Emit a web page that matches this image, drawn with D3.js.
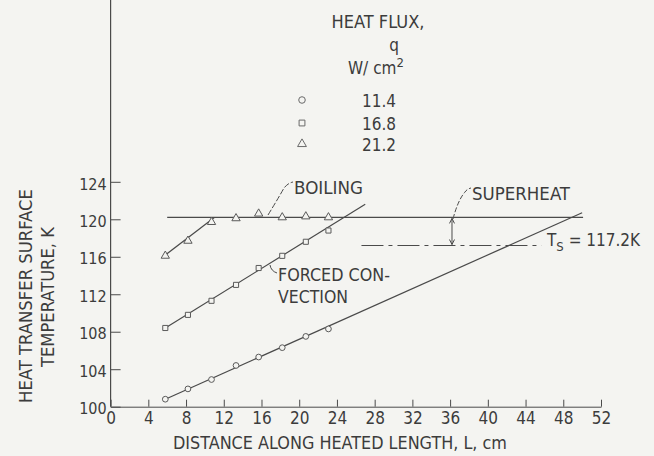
<!DOCTYPE html>
<meta charset="utf-8">
<style>
body{ margin:0; background:#f4f4f1; }
svg{ display:block; }
text{ font-family:"Liberation Sans Narrow","DejaVu Sans Condensed",sans-serif; fill:#3c3c3c; }
</style>
<body>
<svg class="chart"></svg>
<script src="https://cdn.jsdelivr.net/npm/d3@7"></script>
<script>
// measurement stations along the heated length, cm
var stations = [5.8, 8.2, 10.7, 13.3, 15.7, 18.2, 20.7, 23.1];

// surface temperature, K, one list per heat flux
var tempQ114 = [100.8, 101.9, 102.9, 104.4, 105.3, 106.3, 107.5, 108.3];
var tempQ168 = [108.4, 109.8, 111.3, 113.0, 114.8, 116.1, 117.6, 118.8];
var tempQ212 = [116.1, 117.7, 119.7, 120.1, 120.6, 120.2, 120.3, 120.2];

var fluxLabels = ["11.4", "16.8", "21.2"];
var xTicks = [0, 4, 8, 12, 16, 20, 24, 28, 32, 36, 40, 44, 48, 52];
var yTicks = [100, 104, 108, 112, 116, 120, 124];

// faired lines drawn through the data (start, end)
var convLow  = [[5.8, 100.8], [50.0, 120.7]];
var convMid  = [[5.8, 108.4], [27.0, 121.6]];
var convHigh = [[5.7, 116.1], [11.0, 120.2]];
var boilLine = [[6.0, 120.2], [50.1, 120.2]];
var satTemp = 117.2;
var satRange = [26.6, 45.7];
var superheatAt = 36.2;

var w = 654, h = 456;
var svg = d3.select('svg').attr('width', w).attr('height', h);

var x = d3.scaleLinear().domain([0, 52]).range([110.6, 601]);
var y = d3.scaleLinear().domain([100, 124]).range([406.7, 181.8]);

var ink = '#4a4a4a';
var font = '"Liberation Sans Narrow","DejaVu Sans Condensed",sans-serif';

// axes
var xAxis = d3.axisBottom(x).tickValues(xTicks).tickSizeInner(-7).tickSizeOuter(0).tickPadding(5);
var gx = svg.append('g').attr('transform', 'translate(0,' + y(100) + ')').call(xAxis);
gx.select('.domain').attr('stroke', ink);
gx.selectAll('.tick line').attr('stroke', ink);
gx.selectAll('.tick text').attr('font-size', 17).attr('fill', '#3c3c3c').attr('font-family', font);

var yAxis = d3.axisLeft(y).tickValues(yTicks).tickSizeInner(-10).tickSizeOuter(0).tickPadding(4);
var gy = svg.append('g').attr('transform', 'translate(' + x(0) + ',0)').call(yAxis);
gy.select('.domain').remove();
gy.selectAll('.tick line').attr('stroke', ink);
gy.selectAll('.tick text').attr('font-size', 16).attr('fill', '#3c3c3c').attr('dy', '0.45em')
  .attr('font-family', font);
svg.append('line')
  .attr('x1', x(0)).attr('x2', x(0)).attr('y1', y(100)).attr('y2', 0)
  .attr('stroke', ink).attr('stroke-width', 1.2);

// axis titles
svg.append('text').attr('x', 340).attr('y', 449).attr('text-anchor', 'middle')
  .attr('font-size', 18).attr('textLength', 334).attr('lengthAdjust', 'spacingAndGlyphs')
  .text('DISTANCE ALONG HEATED LENGTH, L, cm');
svg.append('text').attr('transform', 'translate(32,296) rotate(-90)').attr('text-anchor', 'middle')
  .attr('font-size', 18).attr('textLength', 214).attr('lengthAdjust', 'spacingAndGlyphs')
  .text('HEAT TRANSFER SURFACE');
svg.append('text').attr('transform', 'translate(54,297) rotate(-90)').attr('text-anchor', 'middle')
  .attr('font-size', 18).attr('textLength', 140).attr('lengthAdjust', 'spacingAndGlyphs')
  .text('TEMPERATURE, K');

// faired lines
var line = d3.line().x(function (d) { return x(d[0]); }).y(function (d) { return y(d[1]); });
svg.selectAll('path.fair')
  .data([convLow, convMid, convHigh, boilLine])
  .enter()
  .append('path')
  .attr('class', 'fair')
  .attr('d', line)
  .attr('fill', 'none')
  .attr('stroke', ink)
  .attr('stroke-width', 1.2);

// saturation temperature, dash-dot
svg.append('line')
  .attr('x1', x(satRange[0])).attr('x2', x(satRange[1]))
  .attr('y1', y(satTemp)).attr('y2', y(satTemp))
  .attr('stroke', ink).attr('stroke-width', 1.1).attr('stroke-dasharray', '22,5,4,5');

// superheat arrow
var ax = x(superheatAt);
var yTop = y(boilLine[0][1]), yBot = y(satTemp);
svg.append('line').attr('x1', ax).attr('x2', ax)
  .attr('y1', yTop + 1).attr('y2', yBot - 1)
  .attr('stroke', ink).attr('stroke-width', 1);
svg.append('path')
  .attr('d', 'M' + (ax - 2.5) + ',' + (yTop + 6) + 'L' + ax + ',' + (yTop + 1) + 'L' + (ax + 2.5) + ',' + (yTop + 6)
    + 'M' + (ax - 2.5) + ',' + (yBot - 6) + 'L' + ax + ',' + (yBot - 1) + 'L' + (ax + 2.5) + ',' + (yBot - 6))
  .attr('fill', 'none').attr('stroke', ink).attr('stroke-width', 1);

// data symbols
var shapes = [d3.symbolCircle, d3.symbolSquare, d3.symbolTriangle];
var series = [tempQ114, tempQ168, tempQ212];
series.forEach(function (temps, s) {
  svg.selectAll('path.pt' + s)
    .data(temps)
    .enter()
    .append('path')
    .attr('class', 'pt' + s)
    .attr('d', d3.symbol().type(shapes[s]).size(s == 2 ? 30 : 26))
    .attr('transform', function (d, i) {
      return 'translate(' + x(stations[i]) + ',' + y(d) + ')';
    })
    .attr('fill', '#f4f4f1')
    .attr('stroke', '#5a5a5a')
    .attr('stroke-width', 1);
});

// legend
svg.append('text').attr('x', 378).attr('y', 28).attr('text-anchor', 'middle')
  .attr('font-size', 17).attr('textLength', 93).attr('lengthAdjust', 'spacingAndGlyphs')
  .text('HEAT FLUX,');
svg.append('text').attr('x', 394).attr('y', 51).attr('text-anchor', 'middle')
  .attr('font-size', 17).text('q');
var wcm = svg.append('text').attr('x', 348).attr('y', 74).attr('font-size', 17);
wcm.append('tspan').text('W/ cm');
wcm.append('tspan').attr('dy', -7).attr('font-size', 13).text('2');

var legY = [100, 123, 144];
svg.selectAll('path.leg')
  .data(fluxLabels)
  .enter()
  .append('path')
  .attr('class', 'leg')
  .attr('d', function (d, i) { return d3.symbol().type(shapes[i]).size(34)(); })
  .attr('transform', function (d, i) { return 'translate(302,' + legY[i] + ')'; })
  .attr('fill', 'none').attr('stroke', '#6a6a6a').attr('stroke-width', 1);
svg.selectAll('text.leg')
  .data(fluxLabels)
  .enter()
  .append('text')
  .attr('class', 'leg')
  .attr('x', 362)
  .attr('y', function (d, i) { return legY[i] + 7; })
  .attr('font-size', 17)
  .text(function (d) { return d; });

// annotations
svg.append('text').attr('x', 294).attr('y', 194).attr('font-size', 17)
  .attr('textLength', 69).attr('lengthAdjust', 'spacingAndGlyphs').text('BOILING');
svg.append('path').attr('d', 'M268,215 Q279,197 284,188 Q288,183 293,182')
  .attr('fill', 'none').attr('stroke', ink).attr('stroke-dasharray', '6,2');

svg.append('text').attr('x', 278).attr('y', 281).attr('font-size', 17)
  .attr('textLength', 112).attr('lengthAdjust', 'spacingAndGlyphs').text('FORCED CON-');
svg.append('text').attr('x', 278).attr('y', 303).attr('font-size', 17)
  .attr('textLength', 70).attr('lengthAdjust', 'spacingAndGlyphs').text('VECTION');
svg.append('path').attr('d', 'M270,265 Q271,271 277,273')
  .attr('fill', 'none').attr('stroke', ink);

svg.append('text').attr('x', 472).attr('y', 200).attr('font-size', 17)
  .attr('textLength', 98).attr('lengthAdjust', 'spacingAndGlyphs').text('SUPERHEAT');
svg.append('path').attr('d', 'M' + (ax + 1) + ',219 Q' + (ax + 6) + ',200 465,192 Q467,189 471,188')
  .attr('fill', 'none').attr('stroke', ink).attr('stroke-dasharray', '5,2');

var ts = svg.append('text').attr('x', 547).attr('y', 246).attr('font-size', 17);
ts.append('tspan').text('T');
ts.append('tspan').attr('dy', 5).attr('font-size', 13).text('S');
ts.append('tspan').attr('dy', -5).text(' = 117.2K');
</script>
</body>
</html>
